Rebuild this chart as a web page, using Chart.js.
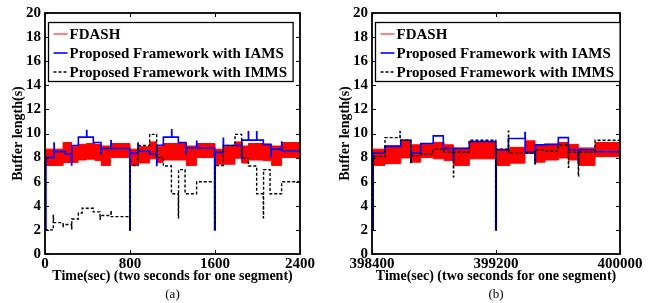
<!DOCTYPE html>
<html>
<head>
<meta charset="utf-8">
<script src="https://cdn.jsdelivr.net/npm/chart.js@4.4.1/dist/chart.umd.min.js"></script>
<style>
  html, body { margin: 0; padding: 0; background: #fff; }
  #wrap { position: relative; width: 654px; height: 303px; }
  .panel { position: absolute; top: 0; width: 327px; height: 303px; }
</style>
</head>
<body>
<div id="wrap">
  <div class="panel" style="left:0"><canvas id="chartA" width="327" height="303"></canvas></div>
  <div class="panel" style="left:327px"><canvas id="chartB" width="327" height="303"></canvas></div>
</div>
<script>
// Buffer length over time, (a) start of session and (b) end of session
// Each series is a step function: value v[i] holds from t[i] until t[i+1]

const yTicks = [0, 2, 4, 6, 8, 10, 12, 14, 16, 18, 20];
const xTicksA = [0, 800, 1600, 2400];
const xTicksB = [398400, 399200, 400000];
const seriesLabels = ['FDASH', 'Proposed Framework with IAMS', 'Proposed Framework with IMMS'];

// (a) FDASH oscillates fast, drawn as upper / lower band
const fdashA_t = [0, 170, 250, 310, 390, 470, 530, 615, 800, 875, 985, 1050, 1110, 1330, 1425, 1600, 1678, 1788, 1851, 1914, 2055, 2133, 2227, 2400];
const fdashA_hi = [8.7, 9.25, 8.9, 9.1, 9.17, 9.1, 8.96, 9.17, 8.7, 8.9, 9.3, 8.9, 9.17, 8.96, 9.17, 8.7, 8.9, 9.3, 8.96, 9.17, 9.1, 8.96, 9.25, 9.25];
const fdashA_lo = [7.35, 7.6, 7.6, 7.8, 7.87, 7.75, 7.35, 8.0, 7.35, 7.55, 7.9, 7.6, 7.8, 7.35, 8.0, 7.45, 7.45, 7.95, 7.55, 7.8, 7.75, 7.35, 8.0, 8.0];

const iamsA_t = [0, 9, 85, 87, 188, 250, 252, 314, 392, 394, 455, 527, 529, 621, 623, 798, 802, 875, 877, 985, 1051, 1053, 1114, 1192, 1194, 1255, 1327, 1329, 1427, 1429, 1596, 1602, 1678, 1680, 1851, 1853, 1914, 1916, 1992, 1994, 2055, 2125, 2127, 2227, 2229, 2400];
const iamsA_v = [2, 8.0, 9.2, 8.5, 8.3, 7.4, 9.0, 9.7, 10.25, 9.7, 9.25, 8.3, 8.76, 9.4, 8.76, 2, 8.35, 9.2, 8.57, 8.3, 7.35, 9.03, 9.7, 10.3, 9.7, 9.25, 8.3, 8.8, 9.35, 8.8, 2, 8.43, 9.6, 9.0, 7.9, 9.45, 10.15, 9.45, 10.15, 9.45, 9.1, 8.1, 8.7, 9.3, 8.57, 8.57];

const immsA_t = [0, 78, 80, 170, 172, 250, 252, 314, 350, 455, 518, 520, 621, 623, 798, 802, 875, 985, 1051, 1114, 1190, 1255, 1257, 1318, 1427, 1598, 1602, 1678, 1788, 1851, 1914, 1992, 2055, 2057, 2118, 2227, 2400];
const immsA_v = [2, 3.2, 2.6, 2.2, 2.45, 2.1, 2.9, 3.4, 3.8, 3.5, 2.9, 3.2, 3.6, 3.1, 2, 7.35, 9.0, 9.93, 8.0, 7.3, 5.0, 3.0, 7.0, 5.0, 6.0, 2, 7.35, 9.0, 9.93, 8.0, 7.3, 5.0, 3.0, 7.0, 5.0, 6.0, 6.0];

// (b)
const fdashB_t = [398400, 398484, 398585, 398650, 398714, 398795, 398865, 398925, 399028, 399200, 399290, 399387, 399452, 399516, 399602, 399667, 399731, 399839, 400000];
const fdashB_hi = [8.7, 8.98, 9.44, 9.06, 9.1, 9.25, 9.06, 8.8, 9.33, 8.7, 8.85, 9.39, 9.06, 9.1, 9.25, 9.1, 8.8, 9.25, 9.25];
const fdashB_lo = [7.35, 7.5, 7.97, 7.62, 8.0, 7.9, 7.75, 7.35, 7.9, 7.35, 7.54, 8.35, 7.62, 7.8, 7.97, 7.8, 7.35, 8.08, 8.08];

const iamsB_t = [398400, 398408, 398484, 398585, 398650, 398652, 398714, 398795, 398860, 398925, 398927, 399028, 399198, 399202, 399280, 399387, 399389, 399452, 399454, 399516, 399602, 399667, 399731, 399733, 399839, 400000];
const iamsB_v = [2, 8.38, 8.93, 9.44, 7.6, 8.38, 9.17, 9.8, 8.76, 7.8, 8.76, 9.33, 2, 8.63, 9.58, 10.07, 8.44, 7.5, 9.06, 9.1, 9.66, 8.65, 7.6, 8.65, 8.49, 8.49];

const immsB_t = [398400, 398408, 398484, 398580, 398582, 398650, 398652, 398714, 398795, 398865, 398925, 398927, 399028, 399198, 399202, 399280, 399282, 399452, 399454, 399516, 399602, 399667, 399669, 399731, 399733, 399839, 400000];
const immsB_v = [2, 8.08, 9.66, 10.15, 9.44, 7.6, 8.16, 8.3, 8.7, 8.44, 6.4, 8.44, 9.44, 2, 8.7, 10.2, 8.35, 7.5, 8.63, 8.57, 9.03, 7.2, 8.44, 6.45, 8.44, 9.44, 9.44];

const SERIF = '"Liberation Serif", "Times New Roman", serif';

function toPoints(t, v) {
    return t.map((x, i) => ({ x: x, y: v[i] }));
}

// Box around plot area + inward tick marks (MATLAB style)
const framePlugin = {
    id: 'frame',
    afterDatasetsDraw(chart) {
        const ctx = chart.ctx;
        const a = chart.chartArea;
        const xs = chart.scales.x, ys = chart.scales.y;
        ctx.save();
        ctx.strokeStyle = '#000';
        ctx.lineWidth = 1;
        ctx.beginPath();
        xs.ticks.forEach(tk => {
            const px = Math.round(xs.getPixelForValue(tk.value)) + 0.5;
            ctx.moveTo(px, a.bottom); ctx.lineTo(px, a.bottom - 4);
            ctx.moveTo(px, a.top); ctx.lineTo(px, a.top + 4);
        });
        ys.ticks.forEach(tk => {
            const py = Math.round(ys.getPixelForValue(tk.value)) + 0.5;
            ctx.moveTo(a.left, py); ctx.lineTo(a.left + 4, py);
            ctx.moveTo(a.right, py); ctx.lineTo(a.right - 4, py);
        });
        ctx.stroke();
        ctx.lineWidth = 1.8;
        ctx.strokeRect(a.left, a.top, a.right - a.left, a.bottom - a.top);
        ctx.restore();
    }
};

// Boxed legend in the upper left of the plot area, plus the (a)/(b) caption
const legendPlugin = {
    id: 'boxLegend',
    afterDraw(chart, args, opts) {
        const ctx = chart.ctx;
        const a = chart.chartArea;
        const items = chart.data.datasets.filter(d => d.label);
        ctx.save();
        ctx.font = 'bold 15px ' + SERIF;
        let maxW = 0;
        items.forEach(d => { maxW = Math.max(maxW, ctx.measureText(d.label).width); });
        const left = a.left + 3.5, top = a.top + 9.5;
        const w = maxW + 27, h = 59;
        ctx.fillStyle = '#fff';
        ctx.fillRect(left, top, w, h);
        ctx.strokeStyle = '#000';
        ctx.lineWidth = 1.3;
        ctx.strokeRect(left, top, w, h);
        items.forEach((d, i) => {
            const cy = top + 11.5 + i * 19;
            ctx.strokeStyle = d.borderColor;
            ctx.lineWidth = d.borderWidth;
            ctx.setLineDash(d.borderDash || []);
            ctx.beginPath();
            ctx.moveTo(left + 5, cy);
            ctx.lineTo(left + 19, cy);
            ctx.stroke();
            ctx.setLineDash([]);
            ctx.fillStyle = '#000';
            ctx.textBaseline = 'middle';
            ctx.textAlign = 'left';
            ctx.fillText(d.label, left + 21, cy + 1);
        });
        // caption under the axis title
        ctx.font = '13px ' + SERIF;
        ctx.textAlign = 'center';
        ctx.fillText(opts.caption, (a.left + a.right) / 2, 295);
        ctx.restore();
    }
};

function makeChart(id, d, xTicks, caption, padRight) {
    new Chart(document.getElementById(id), {
        type: 'line',
        data: {
            datasets: [{
                label: seriesLabels[0],
                data: toPoints(d.fdash_t, d.fdash_hi),
                borderColor: '#ff0000',
                backgroundColor: '#ff0000',
                borderWidth: 1,
                fill: '+1',
                order: 2
            }, {
                label: '',
                data: toPoints(d.fdash_t, d.fdash_lo),
                borderColor: '#ff0000',
                borderWidth: 1,
                fill: false,
                order: 3
            }, {
                label: seriesLabels[1],
                data: toPoints(d.iams_t, d.iams_v),
                borderColor: '#0000ff',
                borderWidth: 1.6,
                fill: false,
                order: 1
            }, {
                label: seriesLabels[2],
                data: toPoints(d.imms_t, d.imms_v),
                borderColor: '#000000',
                borderWidth: 1.4,
                borderDash: [3, 2],
                fill: false,
                order: 0
            }]
        },
        options: {
            responsive: false,
            devicePixelRatio: 1,
            animation: false,
            events: [],
            elements: {
                line: { stepped: true, tension: 0 },
                point: { radius: 0 }
            },
            layout: { padding: { left: 0, right: padRight, top: 10, bottom: 18 } },
            plugins: {
                legend: { display: false },
                tooltip: { enabled: false },
                boxLegend: { caption: caption }
            },
            scales: {
                x: {
                    type: 'linear',
                    min: xTicks[0],
                    max: xTicks[xTicks.length - 1],
                    afterBuildTicks: s => { s.ticks = xTicks.map(v => ({ value: v })); },
                    afterFit: s => { s.height = 31; },
                    grid: { display: false, drawTicks: false },
                    border: { display: false },
                    ticks: {
                        maxRotation: 0,
                        autoSkip: false,
                        padding: 1,
                        color: '#000',
                        font: { family: SERIF, size: 15, weight: 'bold' },
                        callback: v => String(v)
                    },
                    title: {
                        display: true,
                        text: 'Time(sec) (two seconds for one segment)',
                        color: '#000',
                        padding: { top: 0, bottom: 0 },
                        font: { family: SERIF, size: 14, weight: 'bold' }
                    }
                },
                y: {
                    min: 0,
                    max: 20,
                    afterBuildTicks: s => { s.ticks = yTicks.map(v => ({ value: v })); },
                    afterFit: s => { s.width = 45; },
                    grid: { display: false, drawTicks: false },
                    border: { display: false },
                    ticks: {
                        padding: 4,
                        color: '#000',
                        font: { family: SERIF, size: 15, weight: 'bold' }
                    },
                    title: {
                        display: true,
                        text: 'Buffer length(s)',
                        color: '#000',
                        padding: { top: 10, bottom: 0 },
                        font: { family: SERIF, size: 14, weight: 'bold' }
                    }
                }
            }
        },
        plugins: [framePlugin, legendPlugin]
    });
}

makeChart('chartA', {
    fdash_t: fdashA_t, fdash_hi: fdashA_hi, fdash_lo: fdashA_lo,
    iams_t: iamsA_t, iams_v: iamsA_v,
    imms_t: immsA_t, imms_v: immsA_v
}, xTicksA, '(a)', 27);

makeChart('chartB', {
    fdash_t: fdashB_t, fdash_hi: fdashB_hi, fdash_lo: fdashB_lo,
    iams_t: iamsB_t, iams_v: iamsB_v,
    imms_t: immsB_t, imms_v: immsB_v
}, xTicksB, '(b)', 34);
</script>
</body>
</html>
